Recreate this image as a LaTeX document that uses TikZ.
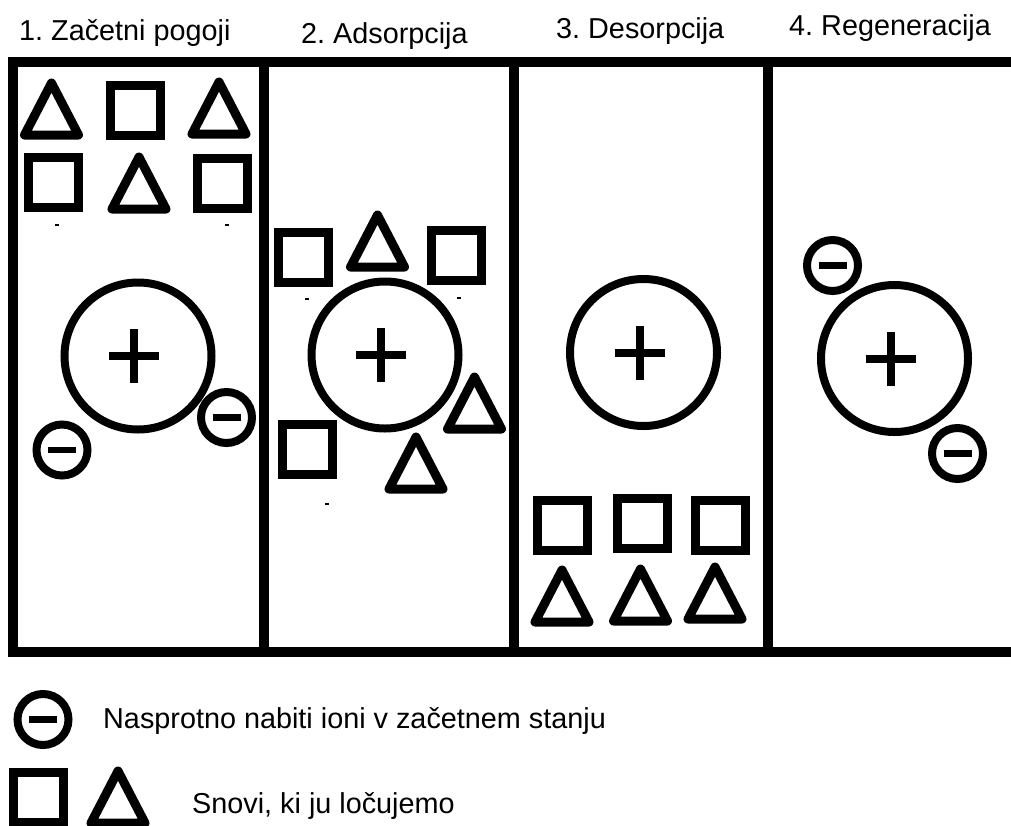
\documentclass[tikz,border=0pt]{standalone}
\usepackage{fontspec}
\setmainfont{Liberation Sans}
\frenchspacing
\begin{document}
\begin{tikzpicture}[x=1pt,y=-1pt,
  frame/.style={line width=10pt, line join=miter, black},
  shapeline/.style={line width=9pt, black},
  ttl/.style={anchor=base west, inner sep=0pt, font=\fontsize{28.8}{34}\selectfont},
  sq/.pic={\draw[shapeline, line join=miter] (-25,-25) rectangle (25,25);},
  tri/.pic={\draw[shapeline, line join=round] (0,-26) -- (27,26) -- (-27,26) -- cycle;},
  neg/.pic={\draw[line width=8pt] (0,0) circle (25.5);
            \draw[line width=6.5pt] (-14,0) -- (14,0);},
  pos/.pic={\draw[line width=8pt] (0,0) circle (73.5);
            \draw[line width=8pt] (-29,0) -- (21,0) (-4,-27) -- (-4,27);},
  dashmark/.pic={\draw[line width=1.5pt] (-2,0) -- (2,0);}
]
\useasboundingbox (0,0) rectangle (1011,825);
\fill[white] (0,0) rectangle (1011,825);

% titles
\node[ttl] (t1) at (19,40) {1. Začetni pogoji};
\node[ttl] (t2) at (301,43) {2. Adsorpcija};
\node[ttl] (t3) at (556,38.5) {3. Desorpcija};
\node[ttl] (t4) at (789,35) {4. Regeneracija};

% frame
\draw[frame] (1030,61.5) -- (12.5,61.5) -- (12.5,652) -- (1030,652);
\draw[frame] (264,61.5) -- (264,652);
\draw[frame] (514,61.5) -- (514,652);
\draw[frame] (767.5,61.5) -- (767.5,652);

% panel 1
\pic at (51.5,109) {tri};
\pic at (135,110) {sq};
\pic at (219,108) {tri};
\pic at (53,182.5) {sq};
\pic at (139,183) {tri};
\pic at (222.5,183) {sq};
\pic at (57,225) {dashmark};
\pic at (227,225) {dashmark};
\pic at (138,356) {pos};
\pic at (62,450) {neg};
\pic at (226.5,417.5) {neg};

% panel 2
\pic at (303,257.5) {sq};
\pic at (377.5,241) {tri};
\pic at (456,255.5) {sq};
\pic at (307,299) {dashmark};
\pic at (459,298) {dashmark};
\pic at (385,355) {pos};
\pic at (474.5,403) {tri};
\pic at (307,449.5) {sq};
\pic at (416,463) {tri};
\pic at (327,504) {dashmark};

% panel 3
\pic at (643.5,352.5) {pos};
\pic at (562.5,525.5) {sq};
\pic at (642,523.5) {sq};
\pic at (720.5,525.5) {sq};
\pic at (562,596) {tri};
\pic at (640.5,595) {tri};
\pic at (715,593) {tri};

% panel 4
\pic at (832.5,265.5) {neg};
\pic at (894.5,358.5) {pos};
\pic at (957.5,453.5) {neg};

% legend
\pic at (43,719.5) {neg};
\node[ttl] (l1) at (103,728) {Nasprotno nabiti ioni v začetnem stanju};
\pic at (38,797) {sq};
\pic at (118,797) {tri};
\node[ttl] (l2) at (192,813) {Snovi, ki ju ločujemo};
\end{tikzpicture}
\end{document}
